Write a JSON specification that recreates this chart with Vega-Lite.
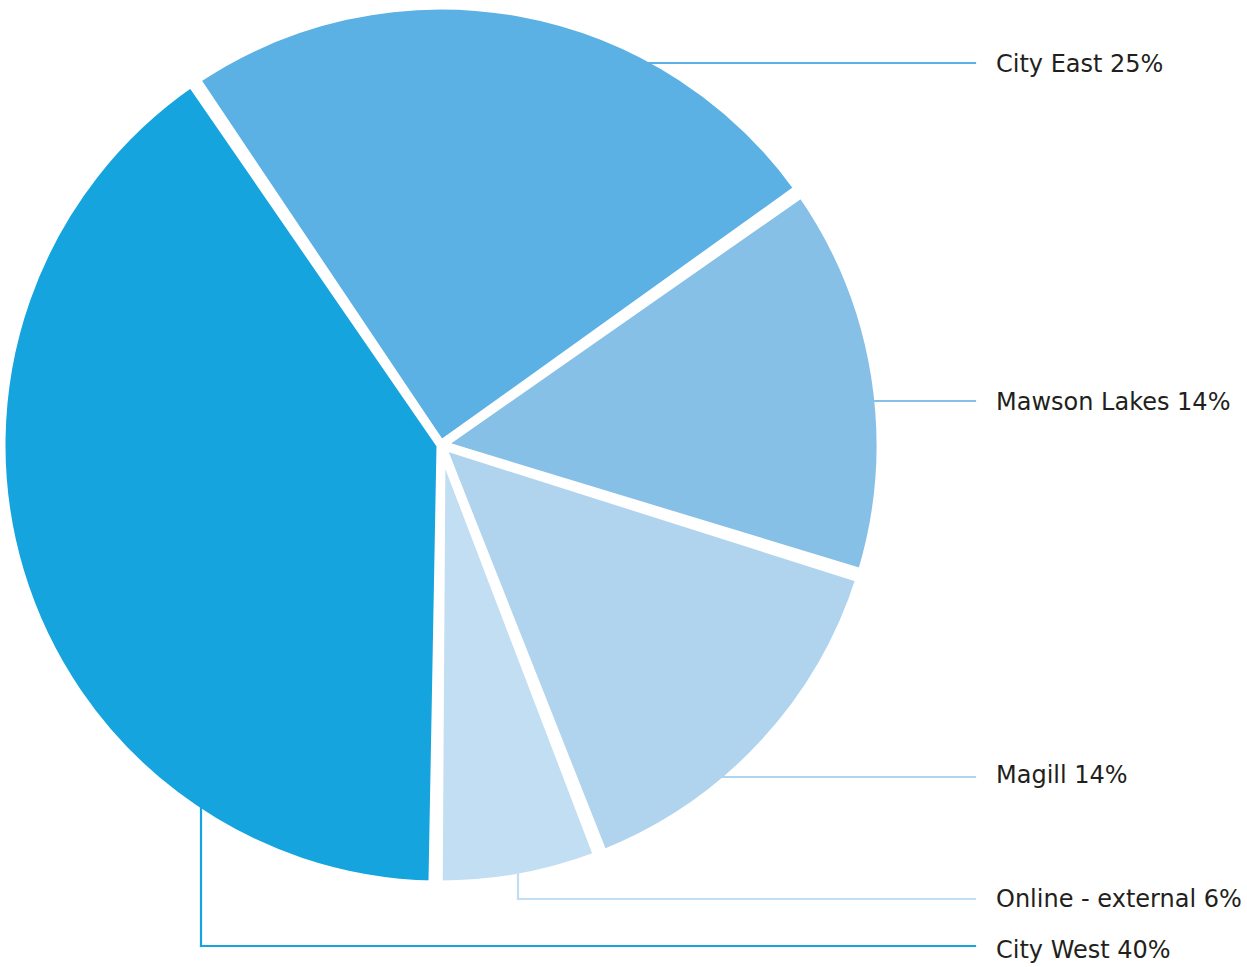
{
  "$schema": "https://vega.github.io/schema/vega-lite/v6.json",
  "width": 1247,
  "height": 967,
  "autosize": {"type": "none"},
  "padding": 0,
  "background": "white",
  "config": {"view": {"stroke": null}},
  "datasets": {
    "slices": [
      {"campus": "City East", "share": 24.7, "rank": 1},
      {"campus": "Mawson Lakes", "share": 14.6, "rank": 2},
      {"campus": "Magill", "share": 14.3, "rank": 3},
      {"campus": "Online - external", "share": 6.1, "rank": 4},
      {"campus": "City West", "share": 40.3, "rank": 5}
    ],
    "leaders": [
      {"campus": "City East", "xa": 630, "ya": 63, "xb": 975, "yb": 63},
      {"campus": "Mawson Lakes", "xa": 860, "ya": 401, "xb": 975, "yb": 401},
      {"campus": "Magill", "xa": 700, "ya": 777, "xb": 975, "yb": 777},
      {"campus": "Online - external", "xa": 518, "ya": 860, "xb": 518, "yb": 899},
      {"campus": "Online - external", "xa": 518, "ya": 899, "xb": 975, "yb": 899},
      {"campus": "City West", "xa": 201, "ya": 790, "xb": 201, "yb": 946},
      {"campus": "City West", "xa": 201, "ya": 946, "xb": 975, "yb": 946}
    ],
    "labels": [
      {"campus": "City East", "label": "City East 25%", "lx": 996, "ly": 65},
      {"campus": "Mawson Lakes", "label": "Mawson Lakes 14%", "lx": 996, "ly": 403},
      {"campus": "Magill", "label": "Magill 14%", "lx": 996, "ly": 776},
      {"campus": "Online - external", "label": "Online - external 6%", "lx": 996, "ly": 900},
      {"campus": "City West", "label": "City West 40%", "lx": 996, "ly": 951}
    ]
  },
  "layer": [
    {
      "data": {"name": "slices"},
      "mark": {"type": "arc", "outerRadius": 440, "stroke": "white", "strokeWidth": 9, "padAngle": 0.012},
      "encoding": {
        "theta": {"field": "share", "type": "quantitative", "stack": true, "scale": {"range": [-0.597, 5.686]}},
        "order": {"field": "rank", "type": "quantitative"},
        "color": {
          "field": "campus", "type": "nominal", "legend": null,
          "scale": {
            "domain": ["City East", "Mawson Lakes", "Magill", "Online - external", "City West"],
            "range": ["#5BB1E3", "#86C0E7", "#B0D4EE", "#C2DEF2", "#15A4DD"]
          }
        },
        "x": {"datum": 441, "type": "quantitative", "scale": {"domain": [0, 1247], "nice": false, "zero": false}, "axis": null},
        "y": {"datum": 445, "type": "quantitative", "scale": {"domain": [0, 967], "nice": false, "zero": false, "reverse": true}, "axis": null}
      }
    },
    {
      "data": {"name": "leaders"},
      "mark": {"type": "rule", "strokeWidth": 2.2, "strokeCap": "square"},
      "encoding": {
        "x": {"field": "xa", "type": "quantitative"},
        "y": {"field": "ya", "type": "quantitative"},
        "x2": {"field": "xb"},
        "y2": {"field": "yb"},
        "color": {"field": "campus", "type": "nominal", "legend": null}
      }
    },
    {
      "data": {"name": "labels"},
      "mark": {"type": "text", "align": "left", "baseline": "middle", "font": "DejaVu Sans", "fontSize": 24, "color": "#231F20"},
      "encoding": {
        "x": {"field": "lx", "type": "quantitative"},
        "y": {"field": "ly", "type": "quantitative"},
        "text": {"field": "label"}
      }
    }
  ]
}
